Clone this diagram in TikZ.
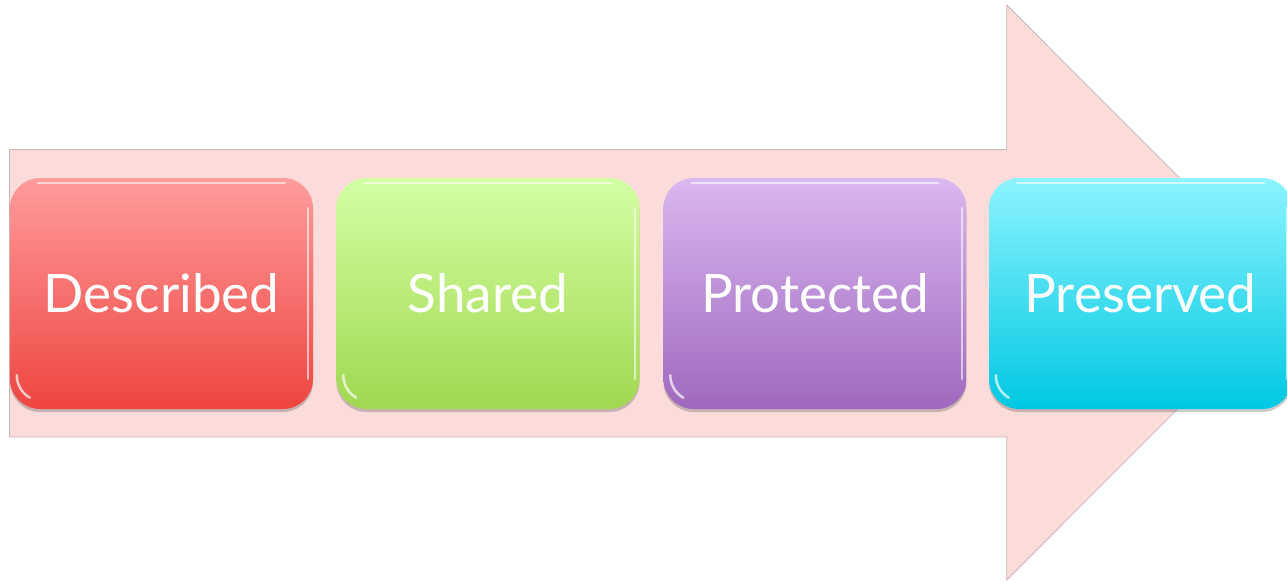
\documentclass[tikz,border=0pt]{standalone}
\usepackage{fontspec}
\setmainfont{Lato}
\usetikzlibrary{shadows,calc}
\definecolor{arrowfill}{HTML}{FCDCDA}
\definecolor{arrowline}{HTML}{C8B4B4}
\definecolor{redtop}{HTML}{FF9C9C}
\definecolor{redbot}{HTML}{EE4540}
\definecolor{greentop}{HTML}{D4FFA4}
\definecolor{greenbot}{HTML}{A0D850}
\definecolor{purptop}{HTML}{DAB8F0}
\definecolor{purpbot}{HTML}{A068BE}
\definecolor{cyantop}{HTML}{8CF4FF}
\definecolor{cyanbot}{HTML}{00C8E2}
\tikzset{
  stagebox/.style={rectangle, rounded corners=30pt, minimum width=303pt,
    minimum height=231pt, inner sep=0pt, text=white,
    font=\fontsize{53}{56}\selectfont,
    drop shadow={shadow xshift=0pt, shadow yshift=-3pt, opacity=0.35, fill=black!60}},
  gloss/.style={white, line width=2pt, opacity=0.6, line cap=round},
}
\begin{document}
\begin{tikzpicture}[x=1pt,y=-1pt]
\useasboundingbox (0,0) rectangle (1287,581);
\begin{scope}
\clip (0,0) rectangle (1287,581);
\draw[arrowline, fill=arrowfill, line width=0.8pt]
  (9.5,149.5) -- (1006.7,149.5) -- (1006.7,5) -- (1294,292.5)
  -- (1006.7,580) -- (1006.7,437) -- (9.5,437) -- cycle;
\node[stagebox, top color=redtop, bottom color=redbot] (d) at (161.5,293.5) {Described};
\node[stagebox, top color=greentop, bottom color=greenbot] (s) at (488,293.5) {Shared};
\node[stagebox, top color=purptop, bottom color=purpbot] (p) at (815,293.5) {Protected};
\node[stagebox, top color=cyantop, bottom color=cyanbot] (v) at (1140.5,293.5) {Preserved};
\foreach \n in {d,s,p,v}{
  \draw[gloss] ($(\n.north west)+(28,5)$) -- ($(\n.north east)+(-28,5)$);
  \draw[gloss] ($(\n.north east)+(-5,30)$) -- ($(\n.south east)+(-5,-30)$);
  \draw[gloss, line width=2.5pt, opacity=0.7] ($(\n.south west)+(7,-34)$) arc[start angle=180, end angle=240, radius=26pt];
}
\end{scope}
\end{tikzpicture}
\end{document}
